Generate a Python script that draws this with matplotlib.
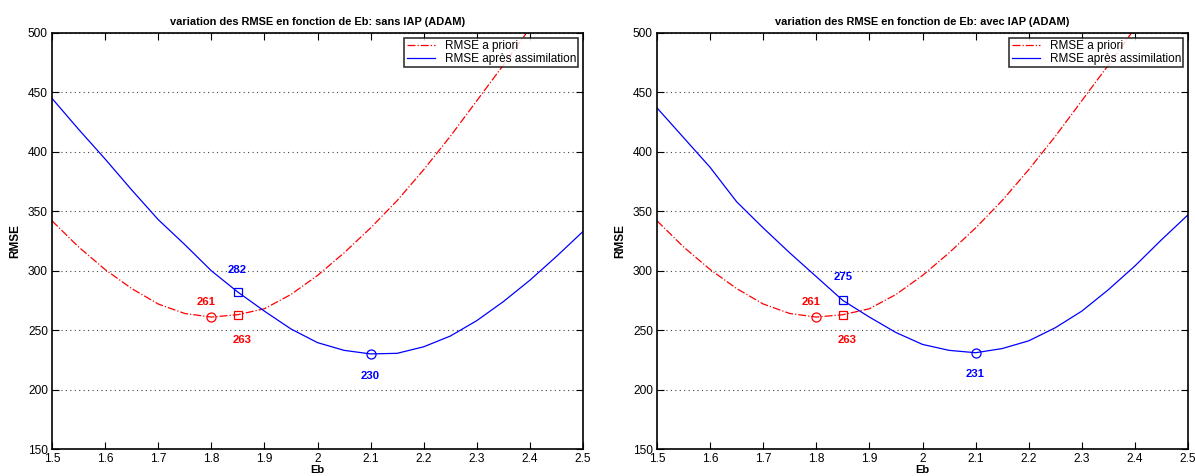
import matplotlib
matplotlib.use("Agg")
import matplotlib.pyplot as plt
from matplotlib.ticker import FuncFormatter

plt.rcParams['font.family'] = ['Liberation Sans', 'DejaVu Sans']

eb = [1.5, 1.55, 1.6, 1.65, 1.7, 1.75, 1.8, 1.85, 1.9, 1.95, 2.0,
      2.05, 2.1, 2.15, 2.2, 2.25, 2.3, 2.35, 2.4, 2.45, 2.5]

rmse_apriori_sans = [342, 320, 301, 285, 272, 264, 261, 263, 268, 280, 296,
                     315, 336, 359, 385, 413, 443, 473, 504, 535, 566]
rmse_assim_sans = [445, 419, 394, 368, 343, 322, 300, 282, 266, 251, 239.5,
                   233, 230, 230.5, 236, 245, 258, 274, 292, 312, 333]

rmse_apriori_avec = [342, 320, 301, 285, 272, 264, 261, 263, 268, 280, 296,
                     315, 336, 359, 385, 413, 443, 473, 504, 535, 566]
rmse_assim_avec = [437, 412, 387, 358, 336, 315, 295, 275, 261, 248, 238,
                   233, 231, 234.5, 241, 252, 266, 284, 304, 326, 347]

titles = ["variation des RMSE en fonction de Eb: sans IAP (ADAM)",
          "variation des RMSE en fonction de Eb: avec IAP (ADAM)"]
xticks = [1.5, 1.6, 1.7, 1.8, 1.9, 2.0, 2.1, 2.2, 2.3, 2.4, 2.5]
yticks = [150, 200, 250, 300, 350, 400, 450, 500]

# annotated points: (x, y, label, text_x, text_y, color, marker)
annots_sans = [(1.80, 261, "261", 1.791, 273.6, "red", 'o'),
               (1.85, 263, "263", 1.857, 241.7, "red", 's'),
               (1.85, 282, "282", 1.849, 301, "blue", 's'),
               (2.10, 230, "230", 2.099, 211.2, "blue", 'o')]
annots_avec = [(1.80, 261, "261", 1.791, 273.4, "red", 'o'),
               (1.85, 263, "263", 1.858, 241.6, "red", 's'),
               (1.85, 275, "275", 1.850, 294.4, "blue", 's'),
               (2.10, 231, "231", 2.100, 212.9, "blue", 'o')]

fig = plt.figure(figsize=(11.95, 4.76), dpi=100)
positions = [[52/1195, 1-449/476, 531/1195, 416/476],
             [657/1195, 1-449/476, 531/1195, 416/476]]

datasets = [(rmse_apriori_sans, rmse_assim_sans, annots_sans),
            (rmse_apriori_avec, rmse_assim_avec, annots_avec)]

for i, (pos, (red, blue, ann)) in enumerate(zip(positions, datasets)):
    ax = fig.add_axes(pos)
    ax.plot(eb, red, color='red', linestyle='-.', linewidth=0.9,
            label='RMSE a priori')
    ax.plot(eb, blue, color='blue', linestyle='-', linewidth=0.9,
            label='RMSE après assimilation')
    for (x, y, lab, tx, ty, c, mk) in ann:
        ms = 6.5 if mk == 'o' else 5.5
        ax.plot([x], [y], marker=mk, markersize=ms, markerfacecolor='none',
                markeredgecolor=c, markeredgewidth=0.9, linestyle='none')
        ax.text(tx, ty, lab, color=c, fontsize=8.2, fontweight='bold',
                ha='center', va='center')
    ax.set_xlim(1.5, 2.5)
    ax.set_ylim(150, 500)
    ax.set_xticks(xticks)
    ax.set_yticks(yticks)
    ax.xaxis.set_major_formatter(FuncFormatter(lambda v, p: "%g" % round(v, 2)))
    ax.tick_params(direction='in', top=True, right=True, length=5,
                   width=0.8, labelsize=8.6)
    ax.tick_params(axis='x', pad=3)
    ax.tick_params(axis='y', pad=3)
    ax.yaxis.grid(True, linestyle=(0, (1, 3)), color='#444444', linewidth=0.8)
    for s in ax.spines.values():
        s.set_linewidth(1.2)
    ax.set_title(titles[i], fontsize=7.9, fontweight='bold', pad=6)
    ax.set_xlabel('Eb', fontsize=8, fontweight='bold', labelpad=0)
    ax.set_ylabel('RMSE', fontsize=8.5, fontweight='bold', labelpad=5)
    leg = ax.legend(loc='upper right', fontsize=8.5, frameon=True,
                    fancybox=False, borderpad=0.2, handlelength=2.4,
                    labelspacing=0.05, borderaxespad=0.4, handletextpad=0.8)
    leg.get_frame().set_edgecolor('black')
    leg.get_frame().set_linewidth(1.2)

fig.savefig('out.png', dpi=100)
